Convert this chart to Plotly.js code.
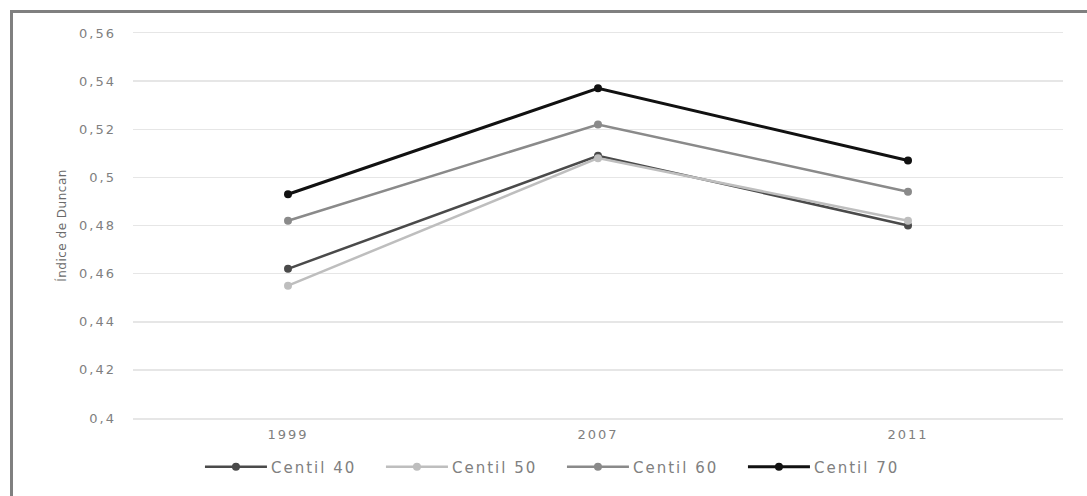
<!DOCTYPE html>
<html>
<head>
<meta charset="utf-8">
<script src="https://cdn.plot.ly/plotly-3.0.1.min.js"></script>
<style>
html,body{margin:0;padding:0;background:#fff;}
#wrap{position:absolute;left:0;top:0;width:1087px;height:496px;}
#frame{position:absolute;left:10px;top:10px;width:1077px;height:486px;border-left:3px solid #808080;border-top:3px solid #808080;box-sizing:border-box;pointer-events:none;}
#chart{position:absolute;left:0;top:0;width:1087px;height:496px;}
#chart .xtick text, #chart .ytick text{letter-spacing:2px;}
#chart .legendtext{letter-spacing:2px;}
#chart .ytitle{letter-spacing:0.5px;}
</style>
</head>
<body>
<div id="wrap"><div id="chart"></div><div id="frame"></div></div>
<script>
const years = ['1999', '2007', '2011'];
const seriesNames = ['Centil 40', 'Centil 50', 'Centil 60', 'Centil 70'];
const centil40 = [0.462, 0.509, 0.480];
const centil50 = [0.455, 0.508, 0.482];
const centil60 = [0.482, 0.522, 0.494];
const centil70 = [0.493, 0.537, 0.507];
const yTicks = [0.4, 0.42, 0.44, 0.46, 0.48, 0.5, 0.52, 0.54, 0.56];
const yTickLabels = ['0,4', '0,42', '0,44', '0,46', '0,48', '0,5', '0,52', '0,54', '0,56'];

const values = [centil40, centil50, centil60, centil70];
const colors = ['#4a4a4a', '#bebebe', '#8a8a8a', '#111111'];
const widths = [2.5, 2.5, 2.5, 3];

const traces = values.map((v, i) => ({
  type: 'scatter',
  mode: 'lines+markers',
  x: years,
  y: v,
  name: seriesNames[i],
  line: {color: colors[i], width: widths[i]},
  marker: {color: colors[i], size: 8, symbol: 'circle'}
}));

const fontFam = 'DejaVu Sans, Liberation Sans, Arial, sans-serif';
const layout = {
  width: 1087,
  height: 496,
  margin: {l: 133, r: 24, t: 33, b: 78},
  paper_bgcolor: '#ffffff',
  plot_bgcolor: '#ffffff',
  font: {family: fontFam, color: '#808080', size: 12},
  showlegend: true,
  legend: {
    orientation: 'h',
    x: 0.072, xanchor: 'left',
    y: -0.127, yanchor: 'middle',
    entrywidth: 136,
    entrywidthmode: 'pixels',
    font: {size: 15, color: '#808080', family: fontFam},
    itemclick: false
  },
  xaxis: {
    type: 'category',
    range: [-0.5, 2.5],
    tickfont: {size: 13, color: '#808080', family: fontFam},
    showgrid: false,
    showline: true,
    linecolor: '#e6e6e6',
    linewidth: 1.5,
    mirror: true,
    zeroline: false,
    ticks: '',
    ticklabelstandoff: 4
  },
  yaxis: {
    range: [0.4, 0.56],
    tickvals: yTicks,
    ticktext: yTickLabels,
    tickfont: {size: 13, color: '#808080', family: fontFam},
    showgrid: true,
    gridcolor: '#e6e6e6',
    gridwidth: 1.5,
    zeroline: false,
    showline: false,
    ticks: '',
    ticklabelstandoff: 16,
    title: {text: 'Índice de Duncan', font: {size: 12, color: '#6a6a6a', family: fontFam}, standoff: 17}
  }
};

Plotly.newPlot('chart', traces, layout, {staticPlot: true, displayModeBar: false}).then(gd => {
  // widen legend line samples to match the reference look
  gd.querySelectorAll('.legend .traces').forEach(tr => {
    tr.querySelectorAll('.legendlines path').forEach(p => p.setAttribute('d', 'M5,0h62'));
    tr.querySelectorAll('.legendpoints path').forEach(p => p.setAttribute('transform', 'translate(36,0)'));
    const t = tr.querySelector('.legendtext');
    if (t) t.setAttribute('x', '71');
  });
});
</script>
</body>
</html>
